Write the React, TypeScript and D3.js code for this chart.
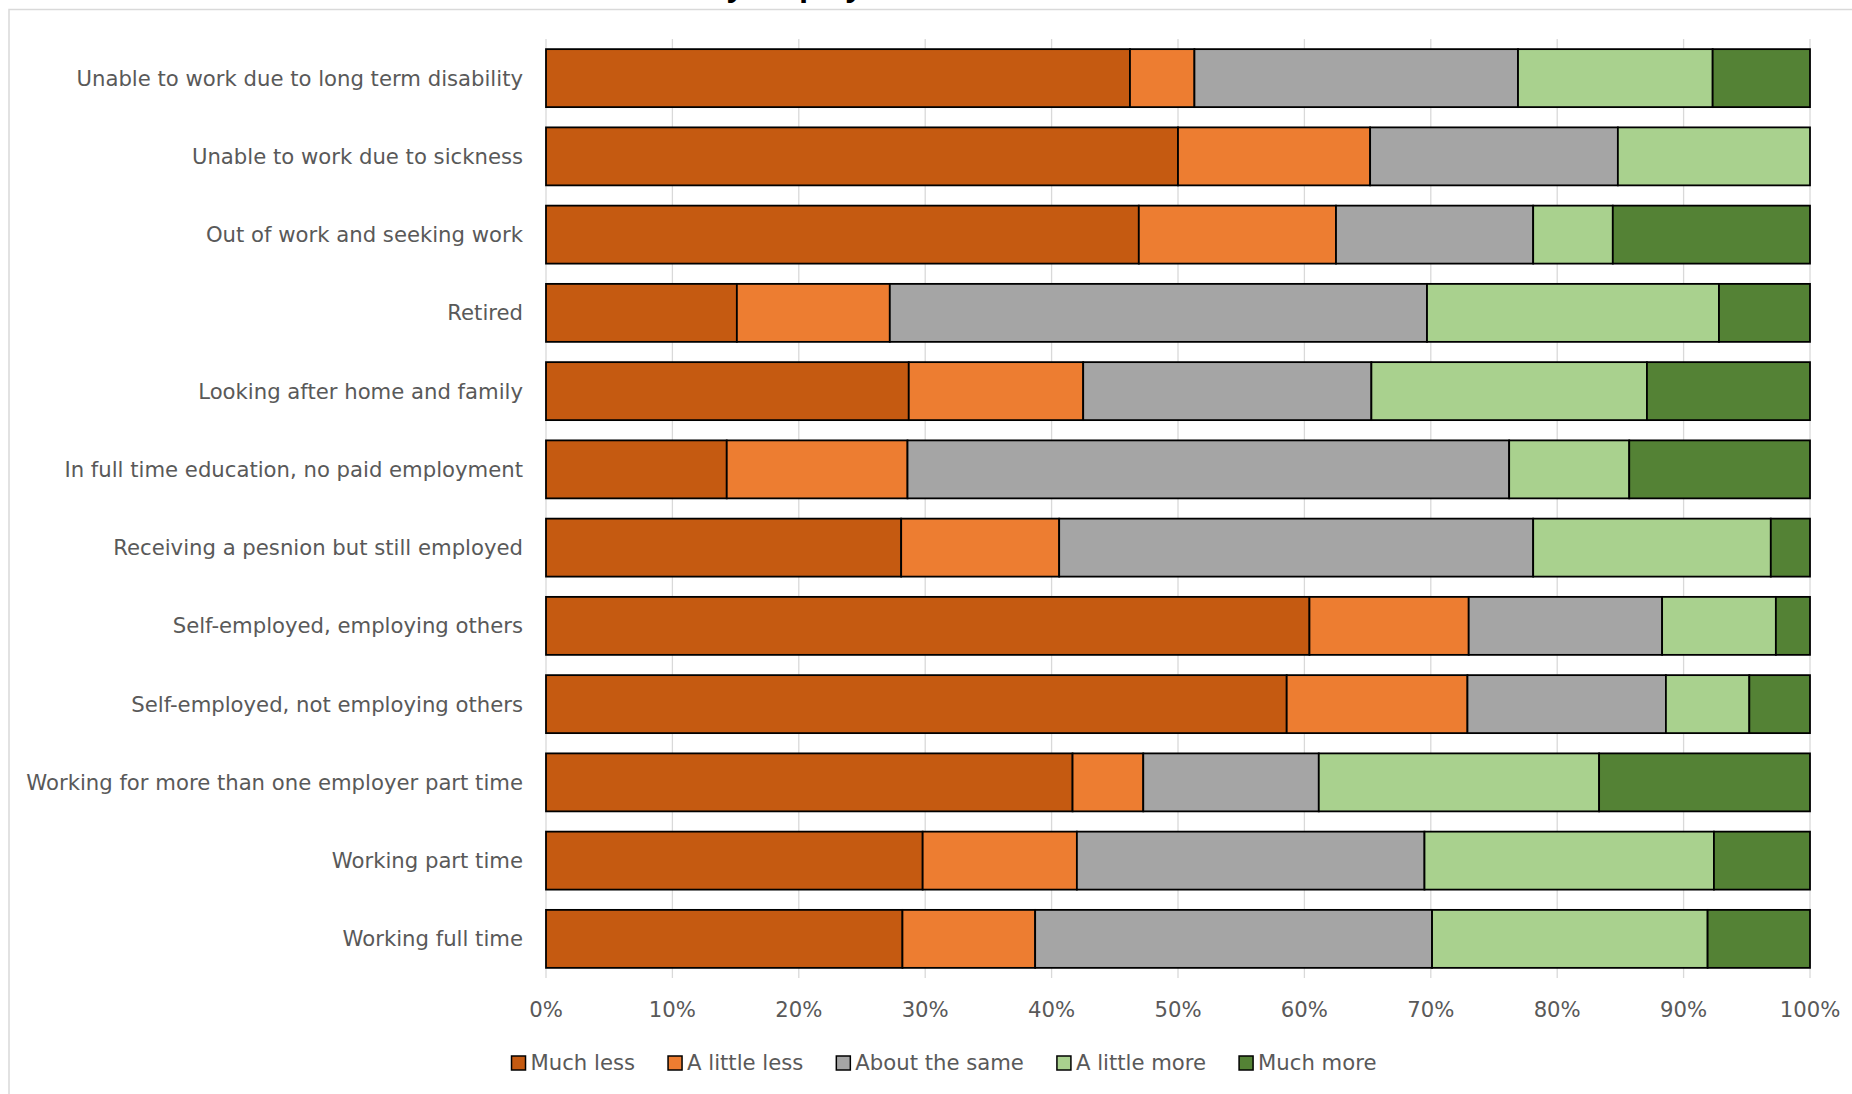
import React, { useLayoutEffect, useRef, useState } from "react";
import * as d3 from "d3";

const categories = [
  "Unable to work due to long term disability",
  "Unable to work due to sickness",
  "Out of work and seeking work",
  "Retired",
  "Looking after home and family",
  "In full time education, no paid employment",
  "Receiving a pesnion but still employed",
  "Self-employed, employing others",
  "Self-employed, not employing others",
  "Working for more than one employer part time",
  "Working part time",
  "Working full time",
];

const seriesNames = ["Much less", "A little less", "About the same", "A little more", "Much more"];
const seriesColors = ["#C55A11", "#ED7D31", "#A5A5A5", "#A9D18E", "#548235"];

const muchLess = [46.2, 50.0, 46.9, 15.1, 28.7, 14.3, 28.1, 60.4, 58.6, 41.7, 29.8, 28.2];
const littleLess = [5.1, 15.2, 15.6, 12.1, 13.8, 14.3, 12.5, 12.6, 14.3, 5.6, 12.2, 10.5];
const aboutSame = [25.6, 19.6, 15.6, 42.5, 22.8, 47.6, 37.5, 15.3, 15.7, 13.9, 27.5, 31.4];
const littleMore = [15.4, 15.2, 6.3, 23.1, 21.8, 9.5, 18.8, 9.0, 6.6, 22.2, 22.9, 21.8];
const muchMore = [7.7, 0, 15.6, 7.2, 12.9, 14.3, 3.1, 2.7, 4.8, 16.7, 7.6, 8.1];

const xTicks = [0, 0.1, 0.2, 0.3, 0.4, 0.5, 0.6, 0.7, 0.8, 0.9, 1.0];

const titleStart = "Travel";
const titleRest = "by employment status";

const W = 1852;
const H = 1094;
const FONT = "'DejaVu Sans', Verdana, sans-serif";
const TEXT = "#595959";
const FS = 21.2;

export default function App() {
  const plotLeft = 546;
  const plotRight = 1810;
  const plotTop = 39;
  const plotBottom = 978;

  const table = categories.map((c, i) => ({
    category: c,
    [seriesNames[0]]: muchLess[i],
    [seriesNames[1]]: littleLess[i],
    [seriesNames[2]]: aboutSame[i],
    [seriesNames[3]]: littleMore[i],
    [seriesNames[4]]: muchMore[i],
  }));

  const stack = d3.stack<any>().keys(seriesNames).offset(d3.stackOffsetExpand);
  const layers = stack(table);

  const x = d3.scaleLinear().domain([0, 1]).range([plotLeft, plotRight]);
  const y = d3
    .scaleBand<string>()
    .domain(categories)
    .range([plotTop, plotBottom])
    .paddingInner(0.259)
    .paddingOuter(0.1295);

  const legendRefs = useRef<(SVGTextElement | null)[]>([]);
  const [legendWidths, setLegendWidths] = useState<number[]>(seriesNames.map((s) => s.length * 11));
  useLayoutEffect(() => {
    const ws = legendRefs.current.map((el, i) => (el ? el.getComputedTextLength() : seriesNames[i].length * 11));
    setLegendWidths(ws);
  }, []);

  const sq = 14;
  const textGap = 19;
  const itemGap = 33;
  const itemWidths = legendWidths.map((w) => textGap + w);
  const totalLegend = d3.sum(itemWidths) + itemGap * (seriesNames.length - 1);
  const legendCenter = 944;
  let cursor = legendCenter - totalLegend / 2;
  const legendX = itemWidths.map((w) => {
    const cx = cursor;
    cursor += w + itemGap;
    return cx;
  });
  const legendY = 1063;

  return (
    <svg
      width={W}
      height={H}
      style={{ position: "absolute", left: 0, top: 0, background: "#fff" }}
      fontFamily={FONT}
    >
      <rect x={0} y={0} width={W} height={H} fill="#fff" />
      <rect x={9} y={9.5} width={W + 100} height={H + 100} fill="#fff" stroke="#D9D9D9" strokeWidth={1.5} />

      <text
        x={698}
        y={-4}
        textAnchor="end"
        fontFamily="'Open Sans', sans-serif"
        fontWeight="bold"
        fontSize={30}
        fill="#000"
      >
        {titleStart}
      </text>
      <text x={708} y={-4} fontFamily="'Open Sans', sans-serif" fontWeight="bold" fontSize={30} fill="#000">
        {titleRest}
      </text>

      {xTicks.map((t) => (
        <line
          key={"g" + t}
          x1={x(t)}
          x2={x(t)}
          y1={plotTop}
          y2={plotBottom}
          stroke="#D9D9D9"
          strokeWidth={1.3}
        />
      ))}

      {layers.map((layer, li) => (
        <g key={layer.key} fill={seriesColors[li]}>
          {layer.map((d, i) =>
            d[1] - d[0] > 0 ? (
              <rect
                key={i}
                x={x(d[0])}
                y={y(categories[i])}
                width={x(d[1]) - x(d[0])}
                height={y.bandwidth()}
                stroke="#000"
                strokeWidth={1.8}
              />
            ) : null
          )}
        </g>
      ))}

      {categories.map((c) => (
        <text
          key={c}
          x={523}
          y={(y(c) as number) + y.bandwidth() / 2}
          dy="0.35em"
          textAnchor="end"
          fontSize={FS}
          fill={TEXT}
        >
          {c}
        </text>
      ))}

      {xTicks.map((t) => (
        <text key={"t" + t} x={x(t)} y={1010} dy="0.35em" textAnchor="middle" fontSize={FS} fill={TEXT}>
          {d3.format(".0%")(t)}
        </text>
      ))}

      {seriesNames.map((s, i) => (
        <g key={s} transform={`translate(${legendX[i]},${legendY})`}>
          <rect x={0} y={-sq / 2} width={sq} height={sq} fill={seriesColors[i]} stroke="#000" strokeWidth={1.5} />
          <text
            ref={(el) => {
              legendRefs.current[i] = el;
            }}
            x={textGap}
            y={0}
            dy="0.35em"
            fontSize={FS}
            fill={TEXT}
          >
            {s}
          </text>
        </g>
      ))}
    </svg>
  );
}
